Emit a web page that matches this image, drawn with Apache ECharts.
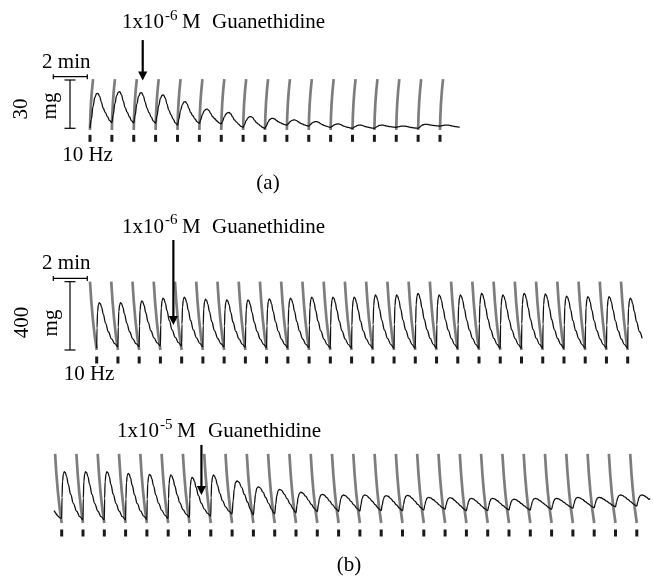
<!DOCTYPE html>
<html><head><meta charset="utf-8">
<script src="https://cdn.jsdelivr.net/npm/echarts@6/dist/echarts.min.js"></script>
<style>html,body{margin:0;padding:0;background:#fff}#c{width:653px;height:577px}</style>
</head><body><div id="c"></div>
<script>
// ================= DATA =================
// (a) 30 mg scale: contraction peak / resting tension at each 10 Hz stimulus (mg)
const peaksA   = [21.7, 22.7, 22.1, 20.7, 16.5, 11.9, 9.8, 7.3, 6.2, 5.2, 4.2, 2.7, 2.0, 2.0, 1.4, 2.5, 2.0];
const troughsA = [0.2, 3.5, 3.3, 3.1, 2.0, 3.1, 2.7, 0.6, 0, 2.0, 1.4, 0.6, 0, 0, 0.6, 0, 1.4, 0.6];
const endA     = [16.91, 0.6];
const drugA    = [[2.41, 54.8, 29.7]];          // [stimulus index, arrow top (mg), arrow tip (mg)]

// (b) upper trace, 400 mg scale
const peaksB1   = [277, 277, 287, 303, 309, 297, 293, 293, 299, 303, 309, 309, 309, 322, 322, 332, 322, 322, 332, 322, 332, 328, 316, 312, 312, 303];
const troughsB1 = [10, 19, 19, 23, 23, 19, 17, 15, 14, 12, 12, 10, 10, 10, 10, 10, 10, 10, 10, 10, 10, 10, 10, 10, 10, 10, 8];
const endB1     = [25.68, 68];
const drugB1    = [[3.61, 644, 146]];

// (b) lower trace, same scale
const peaksB2   = [300, 300, 300, 291, 285, 281, 267, 281, 247, 212, 197, 180, 168, 164, 164, 160, 162, 150, 148, 144, 144, 139, 144, 144, 150, 150, 164, 164];
const troughsB2 = [27, 18, 18, 18, 22, 27, 33, 40, 53, 47, 53, 60, 66, 68, 70, 72, 72, 76, 80, 72, 72, 76, 76, 80, 86, 89, 95, 99, 100];
const startB2   = [-0.36, 72];
const endB2     = [27.62, 144];
const drugB2    = [[6.56, 457, 164]];

// single-twitch shapes: [fraction of interval, fraction of twitch height]
const shapeA    = [[0,0],[0.06,0.25],[0.14,0.62],[0.22,0.88],[0.3,0.99],[0.36,1],[0.44,0.9],[0.52,0.7],[0.6,0.5],[0.7,0.35],[0.8,0.2],[0.9,0.07],[1,0]];
const shapeFast = [[0,0],[0.015,0.45],[0.04,0.8],[0.08,0.95],[0.12,1],[0.17,0.98],[0.23,0.9],[0.31,0.74],[0.42,0.53],[0.55,0.34],[0.7,0.18],[0.85,0.07],[1,0]];
const shapeSlow = [[0,0],[0.05,0.4],[0.1,0.75],[0.16,0.95],[0.23,1],[0.32,0.96],[0.45,0.8],[0.58,0.6],[0.72,0.38],[0.86,0.17],[0.95,0.05],[1,0]];

// texts
const drugTextA  = ['1x10', '-6', 'M', 'Guanethidine'];
const drugTextB2 = ['1x10', '-5', 'M', 'Guanethidine'];
const scaleLabels = { time: '2 min', freq: '10 Hz', unit: 'mg', mgA: '30', mgB: '400' };
const barMg = { A: 30, B: 400 };
const panelLabels = ['(a)', '(b)'];

// ================= LAYOUT =================
const P = {
  A:  { x0: 90,   dx: 21.875, y0: 128.3, k: 1.61,   xmin: -4, xmax: 17.5, ymin: -12, ymax: 36 },
  B1: { x0: 96.7, dx: 21.24,  y0: 350,   k: 0.1708, xmin: -4, xmax: 26,   ymin: -80, ymax: 420 },
  B2: { x0: 61.7, dx: 21.3,   y0: 523,   k: 0.1708, xmin: -2, xmax: 27.8, ymin: -80, ymax: 420 }
};
function gridOf(p) {
  return { left: p.x0 + p.dx * p.xmin, width: p.dx * (p.xmax - p.xmin),
           top: p.y0 - p.k * p.ymax, height: p.k * (p.ymax - p.ymin),
           containLabel: false, outerBoundsMode: 'none' };
}
const keys = ['A', 'B1', 'B2'];

function buildTrace(peaks, troughs, shapeOf, start, end) {
  const pts = start ? [start] : [];
  for (let i = 0; i < peaks.length; i++) {
    const shape = shapeOf(i);
    const tPk = shape.find(s => s[1] === 1)[0];
    for (const [t, f] of shape) {
      if (t === 1) continue;
      const x = i + t;
      if (x >= end[0]) break;
      const base = t <= tPk ? troughs[i] : troughs[i + 1];
      pts.push([+x.toFixed(3), +(base + f * (peaks[i] - base)).toFixed(2)]);
    }
  }
  pts.push(end);
  return pts;
}

const INK = '#111';
const GRAY = '#7d7d7d';
const FONT = '"Liberation Serif", "Times New Roman", serif';
const FS = 21;

function idx(n) { return Array.from({ length: n }, (_, i) => [i]); }

function artifactSeries(gi, n, bottom, top, shift, mode) {
  return {
    type: 'custom', xAxisIndex: gi, yAxisIndex: gi, clip: false, z: 2, silent: true,
    data: idx(n),
    renderItem(params, api) {
      const i = api.value(0);
      const b = api.coord([i, bottom]);
      const t = api.coord([i + shift, top]);
      let cp;
      if (mode === 'A') cp = [b[0] + 0.15 * (t[0] - b[0]), b[1] + 0.55 * (t[1] - b[1])];
      else cp = [t[0] + 0.35 * (b[0] - t[0]), t[1] + 0.6 * (b[1] - t[1])];
      return { type: 'bezierCurve',
        shape: { x1: b[0], y1: b[1], x2: t[0], y2: t[1], cpx1: cp[0], cpy1: cp[1] },
        style: { stroke: GRAY, lineWidth: 2.7, fill: 'none' } };
    }
  };
}
function tickSeries(gi, n) {
  return {
    type: 'custom', xAxisIndex: gi, yAxisIndex: gi, clip: false, z: 2, silent: true,
    data: idx(n),
    renderItem(params, api) {
      const c = api.coord([api.value(0), 0]);
      return { type: 'rect', shape: { x: c[0] - 1.5, y: c[1] + 6.5, width: 3, height: 7 },
        style: { fill: '#1a1a1a' } };
    }
  };
}
function traceSeries(gi, data) {
  return { type: 'line', xAxisIndex: gi, yAxisIndex: gi, data, showSymbol: false, symbol: 'none',
    smooth: 0.4, smoothMonotone: 'x', z: 4, silent: true,
    lineStyle: { color: INK, width: 1.3 } };
}
function arrowSeries(gi, data) {
  return {
    type: 'custom', xAxisIndex: gi, yAxisIndex: gi, clip: false, z: 6, silent: true, data,
    renderItem(params, api) {
      const a = api.coord([api.value(0), api.value(1)]);
      const b = api.coord([api.value(0), api.value(2)]);
      const hl = 9, hw = 4.6;
      return { type: 'group', children: [
        { type: 'line', shape: { x1: a[0], y1: a[1], x2: b[0], y2: b[1] - hl + 1 }, style: { stroke: '#000', lineWidth: 2.2 } },
        { type: 'polygon', shape: { points: [[b[0] - hw, b[1] - hl], [b[0] + hw, b[1] - hl], [b[0], b[1]]] }, style: { fill: '#000' } }
      ] };
    }
  };
}
function scaleBarSeries(gi, mg) {
  return {
    type: 'custom', xAxisIndex: gi, yAxisIndex: gi, clip: false, z: 6, silent: true, data: [[0]],
    renderItem(params, api) {
      const yb = api.coord([0, 0])[1], yt = api.coord([0, mg])[1];
      const x = 70, hx1 = 53.3, hx2 = 87.3, hy = yt - 3.3;
      const st = { stroke: '#000', lineWidth: 1.2 };
      const L = (x1, y1, x2, y2) => ({ type: 'line', shape: { x1, y1, x2, y2 }, style: st });
      return { type: 'group', children: [
        L(x, yt, x, yb), L(x - 5.5, yt, x + 5.5, yt), L(x - 5.5, yb, x + 5.5, yb),
        L(hx1, hy, hx2, hy), L(hx1, hy - 2.5, hx1, hy + 2.5), L(hx2, hy - 2.5, hx2, hy + 2.5)
      ] };
    }
  };
}

const traceA  = buildTrace(peaksA, troughsA, () => shapeA, null, endA);
const traceB1 = buildTrace(peaksB1, troughsB1, () => shapeFast, null, endB1);
const traceB2 = buildTrace(peaksB2, troughsB2, i => (i >= 8 ? shapeSlow : shapeFast), startB2, endB2);

function T(x, y, text, o = {}) {
  return { type: 'text', x, y, rotation: o.rot || 0, z: 20, silent: true,
    style: { text, fontSize: o.size || FS, fontFamily: FONT, fill: '#000',
      align: o.align || 'center', verticalAlign: 'middle',
      textAlign: o.align || 'center', textVerticalAlign: 'middle' } };
}
function drugLabel(x1, xs, xM, xG, yMid, parts) {
  return [
    T(x1, yMid, parts[0], { align: 'left' }),
    T(xs, yMid - 6.5, parts[1], { align: 'left', size: 15 }),
    T(xM, yMid, parts[2], { align: 'left' }),
    T(xG, yMid, parts[3], { align: 'left' })
  ];
}

const graphics = [
  ...drugLabel(122, 165, 182, 212, 22.6, drugTextA),
  ...drugLabel(122, 165, 182, 212, 227, drugTextA),
  ...drugLabel(117, 160, 177, 208, 431.3, drugTextB2),
  T(66.3, 62, scaleLabels.time), T(66.3, 263.3, scaleLabels.time),
  T(87.5, 155.5, scaleLabels.freq), T(89, 374.5, scaleLabels.freq),
  T(21, 109, scaleLabels.mgA, { rot: Math.PI / 2 }), T(50, 106, scaleLabels.unit, { rot: Math.PI / 2 }),
  T(22.5, 322.5, scaleLabels.mgB, { rot: Math.PI / 2 }), T(51, 323, scaleLabels.unit, { rot: Math.PI / 2 }),
  T(268, 183, panelLabels[0]), T(349, 565, panelLabels[1])
];

const chart = echarts.init(document.getElementById('c'), null, { renderer: 'canvas' });
chart.setOption({
  animation: false,
  backgroundColor: '#fff',
  grid: keys.map(k => gridOf(P[k])),
  xAxis: keys.map((k, i) => ({ type: 'value', gridIndex: i, min: P[k].xmin, max: P[k].xmax, show: false })),
  yAxis: keys.map((k, i) => ({ type: 'value', gridIndex: i, min: P[k].ymin, max: P[k].ymax, show: false })),
  graphic: graphics,
  series: [
    artifactSeries(0, peaksA.length, -1, 30.5, 0.14, 'A'),
    artifactSeries(1, peaksB1.length, 0, 400, -0.315, 'B'),
    artifactSeries(2, peaksB2.length, 0, 405, -0.31, 'B'),
    tickSeries(0, peaksA.length), tickSeries(1, peaksB1.length), tickSeries(2, peaksB2.length),
    traceSeries(0, traceA), traceSeries(1, traceB1), traceSeries(2, traceB2),
    arrowSeries(0, drugA), arrowSeries(1, drugB1), arrowSeries(2, drugB2),
    scaleBarSeries(0, barMg.A), scaleBarSeries(1, barMg.B)
  ]
});
</script></body></html>
